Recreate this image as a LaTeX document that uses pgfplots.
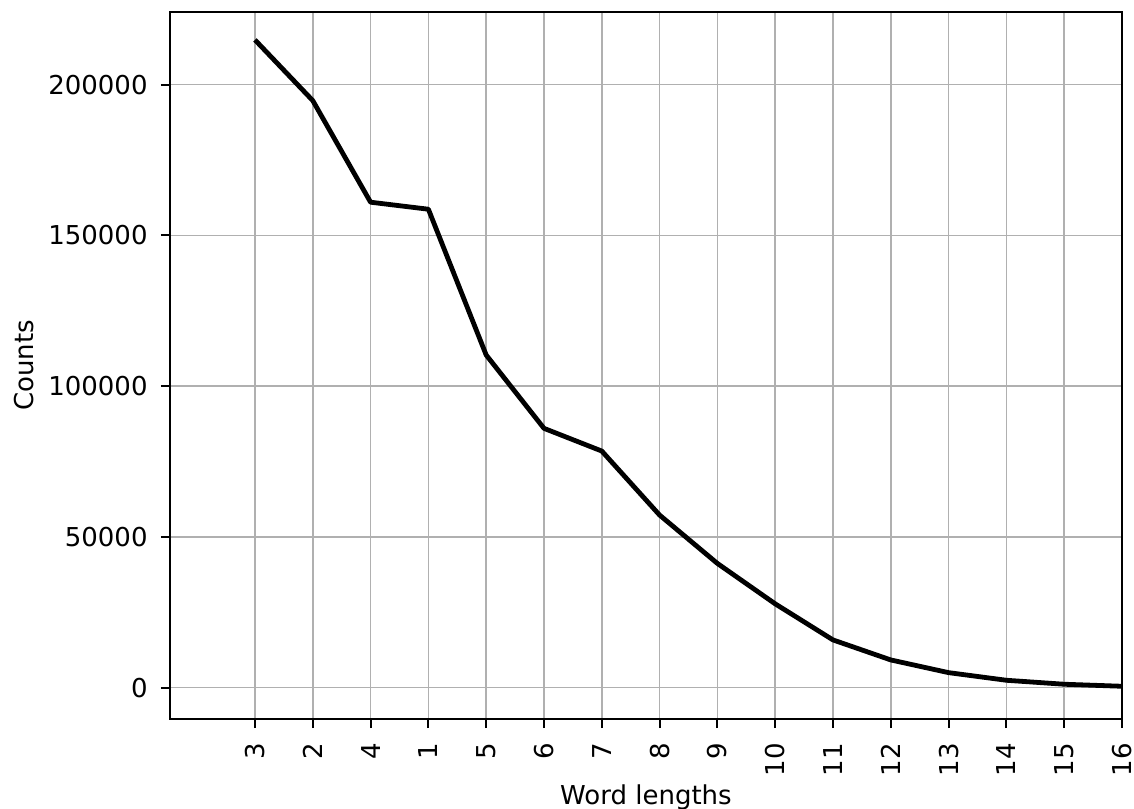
\documentclass[border=0pt]{standalone}
\usepackage{fontspec}
\setmainfont{DejaVu Sans}
\usepackage{pgfplots}
\pgfplotsset{compat=1.18}
\definecolor{gridgray}{HTML}{B0B0B0}
\begin{document}
\begin{tikzpicture}
\begin{axis}[
  scale only axis,
  width=476pt, height=353.5pt,
  xmin=-1.47, xmax=15,
  ymin=-10395, ymax=224080,
  xtick={0,1,...,15},
  xticklabels={3,2,4,1,5,6,7,8,9,10,11,12,13,14,15,16},
  ytick={0,50000,100000,150000,200000},
  scaled y ticks=false,
  /pgf/number format/.cd, fixed, precision=0, 1000 sep={}, assume math mode=true,
  /pgfplots/.cd,
  xmajorgrids, ymajorgrids,
  grid style={color=gridgray, line width=0.8pt},
  axis line style={black, line width=1pt},
  tick style={black, line width=1pt},
  tick align=outside,
  major tick length=4.5pt,
  xtick pos=bottom, ytick pos=left,
  tick label style={font=\fontsize{13}{15.6}\selectfont, text=black},
  label style={font=\fontsize{13}{15.6}\selectfont, text=black},
  yticklabel style={anchor=east, inner sep=0pt, xshift=-6.5pt},
  xticklabel style={yshift=-7.5pt, rotate=90, anchor=east, inner sep=0pt},
  xlabel={Word lengths},
  ylabel={Counts},
  xlabel style={at={(axis description cs:0.5,-0.1216)}, anchor=base},
  ylabel style={at={(axis description cs:-0.1534,0.5)}, anchor=center},
]
\addplot[black, line width=2.4pt, line join=round] coordinates {
  (0,214830) (1,194700) (2,161000) (3,158670) (4,110320) (5,86000)
  (6,78470) (7,57240) (8,41200) (9,27800) (10,15830) (11,9190)
  (12,4980) (13,2450) (14,1130) (15,460)
};
\end{axis}
\pgfresetboundingbox
\path ([shift={(-85pt,-44.5pt)}]current axis.south west) rectangle ([shift={(6pt,6pt)}]current axis.north east);
\end{tikzpicture}
\end{document}
